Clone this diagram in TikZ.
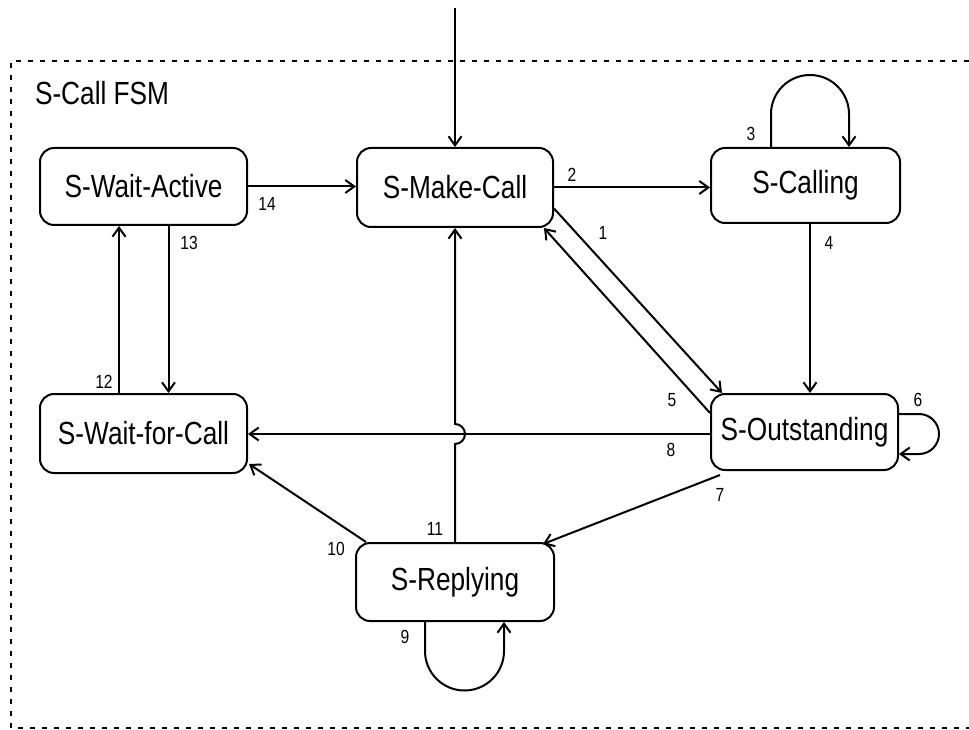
\documentclass[tikz,border=0pt]{standalone}
\usepackage{fontspec}
\setmainfont[FakeStretch=0.82]{Liberation Sans}
\usetikzlibrary{arrows.meta,calc}
\begin{document}
\begin{tikzpicture}[x=1pt,y=-1pt,
  line width=2pt,
  >={Straight Barb[length=9pt,width=13pt]},
  state/.style={draw, rounded corners=14pt, inner sep=0pt, line width=2pt,
    font=\fontsize{32}{36}\selectfont},
  lbl/.style={inner sep=0pt, font=\fontsize{19}{22}\selectfont},
  frame/.style={line width=1.8pt, dash pattern=on 5pt off 7pt}]
\useasboundingbox (0,0) rectangle (969,730);
% frame
\draw[frame] (969,61) -- (11,61) -- (11,728) -- (969,728);
\node[anchor=west, inner sep=0pt, font=\fontsize{32}{36}\selectfont] (title) at (34,93) {S-Call FSM};
% states
\node[state, minimum width=207pt, minimum height=77pt] (wa) at (143.5,186.5) {S-Wait-Active};
\node[state, minimum width=196pt, minimum height=79pt] (mc) at (455,187.5) {S-Make-Call};
\node[state, minimum width=189pt, minimum height=75pt] (cl) at (805.5,185.5) {S-Calling};
\node[state, minimum width=187pt, minimum height=76pt] (os) at (804.5,432) {S-Outstanding};
\node[state, minimum width=207pt, minimum height=79pt] (wc) at (143.5,433.5) {S-Wait-for-Call};
\node[state, minimum width=198pt, minimum height=78pt] (rp) at (455,582) {S-Replying};
\coordinate (init) at (455,8);
\coordinate (hop) at (455,434);
\coordinate (o8) at ($(os.west)+(0,2)$);
% transitions
\draw[->] (init) -- (mc.north);
\draw[->] (wa.east) -- (wa.east -| mc.west);
\draw[->] (mc.east) -- (mc.east -| cl.west);
\draw[->] ($(cl.north)+(-34.5,0)$) -- ++(0,-33) arc[start angle=180, end angle=360, radius=39] -- ($(cl.north)+(43.5,0)$);
\draw[->] ($(cl.south)+(4.5,0)$) -- ($(os.north)+(5.5,0)$);
\draw[->] ($(mc.east)+(0,21)$) -- ($(os.north)+(-82.5,0)$);
\draw[->] ($(os.west)+(0,-19)$) -- ($(mc.south east)+(-10,0)$);
\draw[->] ($(os.east)+(0,-18)$) -- ++(20,0) arc[start angle=-90, end angle=90, radius=20] -- ($(os.east)+(0,22)$);
\draw[->] (o8) -- (o8 -| wc.east);
\draw[->] ($(os.south west)+(10,4)$) -- ($(rp.north east)+(-12,2)$);
\draw[->] ($(rp.north west)+(11,0)$) -- ($(wc.south east)+(1,-10)$);
\draw[->] (rp.north) -- ($(hop)+(0,10)$) arc[start angle=90, end angle=-90, radius=10] -- (mc.south);
\draw[->] ($(wc.north)+(-24.5,0)$) -- ($(wa.south)+(-24.5,0)$);
\draw[->] ($(wa.south)+(25,0)$) -- ($(wc.north)+(25,0)$);
\draw[->] ($(rp.south)+(-30,0)$) -- ++(0,29) arc[start angle=180, end angle=0, radius=39.5] -- ($(rp.south)+(49,0)$);
% labels
\node[lbl] (l1) at (603,233) {1};
\node[lbl] (l2) at (572,175) {2};
\node[lbl] (l3) at (751,134) {3};
\node[lbl] (l4) at (829,243) {4};
\node[lbl] (l5) at (672,400) {5};
\node[lbl] (l6) at (918,400) {6};
\node[lbl] (l7) at (720,495) {7};
\node[lbl] (l8) at (671,450) {8};
\node[lbl] (l9) at (405,637) {9};
\node[lbl] (l10) at (336,549) {10};
\node[lbl] (l11) at (435,529) {11};
\node[lbl] (l12) at (104,382) {12};
\node[lbl] (l13) at (189,243) {13};
\node[lbl] (l14) at (267,204) {14};
\end{tikzpicture}
\end{document}
